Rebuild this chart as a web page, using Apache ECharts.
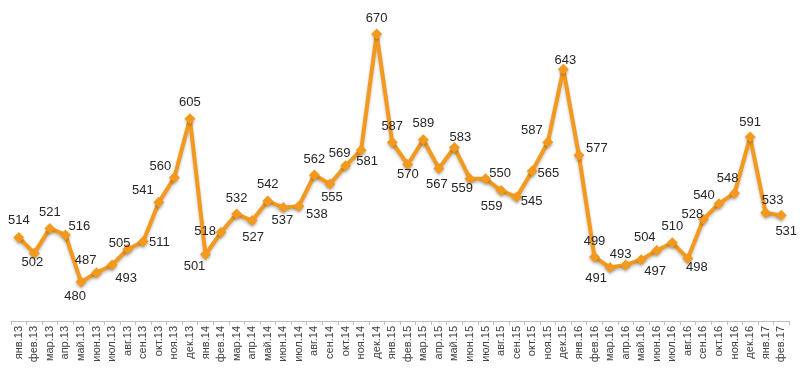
<!DOCTYPE html>
<html>
<head>
<meta charset="utf-8">
<script src="https://cdn.jsdelivr.net/npm/echarts@6/dist/echarts.min.js"></script>
<style>
html,body{margin:0;padding:0;background:#fff;}
#chart{width:800px;height:371px;}
</style>
</head>
<body>
<div id="chart"></div>
<script>
var months = ['янв','фев','мар','апр','май','июн','июл','авг','сен','окт','ноя','дек'];
var years = ['13','14','15','16','17'];
var categories = [];
years.forEach(function (y) {
  months.forEach(function (m) { categories.push(m + '.' + y); });
});
categories = categories.slice(0, 50);

var values = [514,502,521,516,480,487,493,505,511,541,560,605,501,518,532,527,542,537,538,562,555,569,581,670,587,570,589,567,583,559,559,550,545,565,587,643,577,499,491,493,497,504,510,498,528,540,548,591,533,531];

// label offsets (style only): [dx, dy] from marker centre
var labelOffsets = [
  [0,-17],[-2,9],[0,-16],[14,-9],[-6,15],[-11,-12],[14,14],[-8,-6],[16,1],[-16,-12],
  [-14,-11],[0,-16],[-11,12],[-16,-1],[0,-16],[1,17],[0,-17],[-1,13],[18,8],[0,-16],
  [2,13],[-6,-12],[6,11],[0,-16],[0,-16],[0,10],[0,-16],[-2,16],[6,-10],[-8,10],
  [6,28],[-1,-17],[15,4],[16,2],[-16,-12],[2,-9],[18,-7],[0,-16],[-14,11],[-5,-10],
  [14,12],[-12,-13],[0,-16],[9,9],[-11,-5],[-15,-8],[-7,-15],[0,-15],[7,-12],[5,16]
];

var seriesData = values.map(function (v, i) {
  return {
    value: v,
    label: { offset: labelOffsets[i] }
  };
});

var chart = echarts.init(document.getElementById('chart'), null, { renderer: 'canvas' });
chart.setOption({
  animation: false,
  backgroundColor: '#ffffff',
  grid: { left: 11, right: 11, top: 8, bottom: 50, containLabel: false, outerBoundsMode: 'none' },
  xAxis: {
    type: 'category',
    data: categories,
    boundaryGap: true,
    axisLine: { lineStyle: { color: '#BFBFBF', width: 1 } },
    axisTick: { show: true, length: 4, lineStyle: { color: '#BFBFBF' } },
    axisLabel: {
      interval: 0,
      rotate: 90,
      margin: 5,
      fontSize: 11,
      color: '#404040',
      fontFamily: 'Liberation Sans, Arial, sans-serif'
    }
  },
  yAxis: {
    type: 'value',
    min: 450,
    max: 690,
    show: false,
    splitLine: { show: false }
  },
  series: [{
    type: 'line',
    data: seriesData,
    symbol: 'diamond',
    symbolSize: 11,
    lineStyle: {
      color: '#F39A1E',
      width: 4,
      shadowColor: 'rgba(0,0,0,0.25)',
      shadowBlur: 3,
      shadowOffsetY: 2
    },
    itemStyle: {
      color: '#F39A1E',
      shadowColor: 'rgba(0,0,0,0.25)',
      shadowBlur: 3,
      shadowOffsetY: 2
    },
    label: {
      show: true,
      position: 'inside',
      fontSize: 13,
      color: '#262626',
      fontFamily: 'Liberation Sans, Arial, sans-serif'
    },
    emphasis: { disabled: true }
  }]
});
</script>
</body>
</html>
